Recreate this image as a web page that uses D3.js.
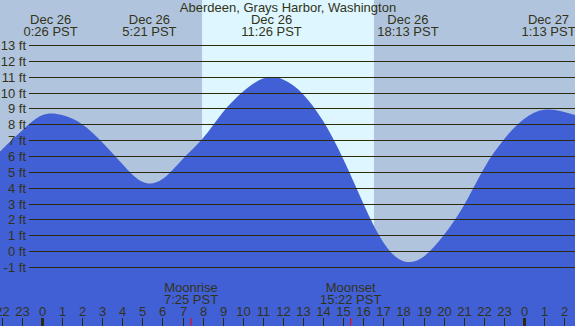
<!DOCTYPE html>
<html>
<head>
<meta charset="utf-8">
<script src="https://cdn.jsdelivr.net/npm/d3@7"></script>
<style>
  html, body { margin: 0; padding: 0; background: #b0c4de; }
  svg { display: block; }
  text { font-family: "Liberation Sans", Arial, sans-serif; font-size: 13px; fill: #333318; }
</style>
</head>
<body>
<svg width="575" height="326"></svg>
<script>
"use strict";

// hourly tide heights (ft), hours from midnight Dec 26 (PST)
var tideHours   = d3.range(-3, 28);
var tideHeights = [4.95, 6.4, 7.6, 8.57, 8.58, 8.0, 6.86, 5.5, 4.38, 4.55,
                   5.8, 7.1, 8.75, 10.05, 10.88, 10.83, 9.9, 8.2, 5.81, 3.0,
                   0.55, -0.63, -0.35, 1.0, 2.86, 5.2, 7.04, 8.33, 8.91, 8.78, 8.4];

// high / low tide labels
var extremeHours = [0.43, 5.35, 11.43, 18.22, 25.22];
var extremeDates = ["Dec 26", "Dec 26", "Dec 26", "Dec 26", "Dec 27"];
var extremeTimes = ["0:26 PST", "5:21 PST", "11:26 PST", "18:13 PST", "1:13 PST"];

// daylight and moon
var sunrise = 7.97, sunset = 16.53;
var moonHours = [7.42, 15.37];
var moonNames = ["Moonrise", "Moonset"];
var moonTimes = ["7:25 PST", "15:22 PST"];

var feetTicks = d3.range(-1, 14);
var hourTicks = d3.range(-2, 27);

var width = 575, height = 326;

var x = d3.scaleLinear().domain([-2.09, 26.54]).range([0, width]);
var y = d3.scaleLinear().domain([-1, 13]).range([267, 45]);

var svg = d3.select("svg");

// night background then daylight band
svg.append("rect")
    .attr("width", width).attr("height", height)
    .attr("fill", "#b0c4de");
svg.append("rect")
    .attr("x", x(sunrise)).attr("width", x(sunset) - x(sunrise))
    .attr("y", 0).attr("height", height)
    .attr("fill", "#ddf6ff");

// tide fill
var pts = tideHours.map((h, i) => [h, tideHeights[i]]);
var area = d3.area()
    .x(d => x(d[0]))
    .y0(height)
    .y1(d => y(d[1]))
    .curve(d3.curveNatural);
svg.append("path")
    .datum(pts)
    .attr("d", area)
    .attr("fill", "#4160d6");

// height grid
svg.append("g").selectAll("line")
  .data(feetTicks)
  .join("line")
    .attr("x1", 29).attr("x2", width)
    .attr("y1", d => Math.round(y(d)) + 0.5)
    .attr("y2", d => Math.round(y(d)) + 0.5)
    .attr("stroke", "#2b2b10")
    .attr("stroke-width", 1);

svg.append("g").selectAll("text")
  .data(feetTicks)
  .join("text")
    .attr("x", 26)
    .attr("y", d => Math.round(y(d)) + 5)
    .attr("text-anchor", "end")
    .text(d => d + " ft");

// title
svg.append("text")
    .attr("x", 288).attr("y", 12)
    .attr("text-anchor", "middle")
    .text("Aberdeen, Grays Harbor, Washington");

// high / low tide times
var ext = svg.append("g").selectAll("g")
  .data(extremeHours)
  .join("g")
    .attr("transform", d => `translate(${x(d)},0)`);
ext.append("text")
    .attr("y", 24).attr("text-anchor", "middle")
    .text((d, i) => extremeDates[i]);
ext.append("text")
    .attr("y", 36).attr("text-anchor", "middle")
    .text((d, i) => extremeTimes[i]);

// moon events
var moon = svg.append("g").selectAll("g")
  .data(moonHours)
  .join("g")
    .attr("transform", d => `translate(${x(d)},0)`);
moon.append("text")
    .attr("y", 292).attr("text-anchor", "middle")
    .text((d, i) => moonNames[i]);
moon.append("text")
    .attr("y", 304).attr("text-anchor", "middle")
    .text((d, i) => moonTimes[i]);
moon.append("line")
    .attr("x1", 0).attr("x2", 0)
    .attr("y1", 318).attr("y2", height)
    .attr("stroke", "#ff0000");

// hour axis
var hr = svg.append("g").selectAll("g")
  .data(hourTicks)
  .join("g")
    .attr("transform", d => `translate(${Math.round(x(d)) + 0.5},0)`);
hr.append("line")
    .attr("y1", 318).attr("y2", height)
    .attr("stroke", "#2b2b10")
    .attr("stroke-width", d => (d % 24 === 0 ? 3 : 1));
hr.append("text")
    .attr("y", 316).attr("text-anchor", "middle")
    .text(d => ((d % 24) + 24) % 24);
</script>
</body>
</html>
